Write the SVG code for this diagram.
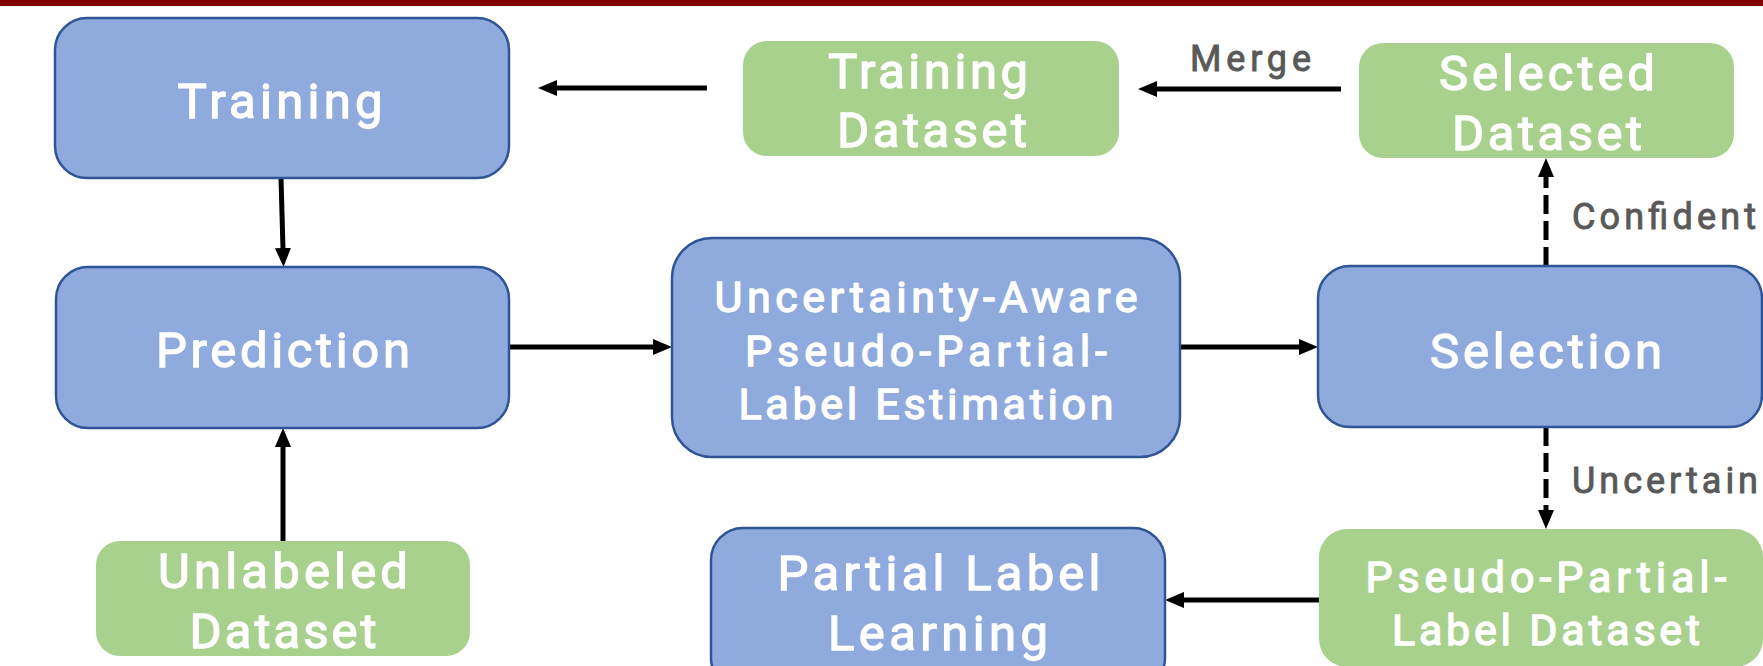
<svg xmlns="http://www.w3.org/2000/svg" width="1763" height="666" viewBox="0 0 1763 666">
<defs>
<style>
.blue{fill:#8FAADC;stroke:#2F5597;stroke-width:2.5}
.green{fill:#A9D18E;stroke:none}
.t{font-family:Roboto,"Liberation Sans",sans-serif;font-weight:400;fill:#FFFFFF;stroke:#FFFFFF;stroke-width:1.3;text-anchor:middle}
.t48{font-size:49px}
.t42{font-size:43px}
.lbl{font-family:Roboto,"Liberation Sans",sans-serif;font-weight:400;font-size:36px;fill:#595959;stroke:#595959;stroke-width:0.9}
.c{stroke:#000000;stroke-width:5;fill:none;marker-end:url(#ah)}
.d{stroke-dasharray:19 7}
</style>
<marker id="ah" markerUnits="userSpaceOnUse" markerWidth="20" markerHeight="18" refX="1" refY="9" orient="auto">
<path d="M0,1 L19,9 L0,17 Z" fill="#000000"/>
</marker>
</defs>
<rect x="0" y="0" width="1763" height="666" fill="#FFFFFF"/>
<rect x="0" y="0" width="1763" height="6" fill="#800000"/>

<g id="connectors">
<line class="c" x1="707" y1="88" x2="556" y2="88"/>
<line class="c" x1="1341" y1="89" x2="1156" y2="89"/>
<line class="c" x1="281" y1="178" x2="283" y2="249"/>
<line class="c" x1="283" y1="541" x2="283" y2="446"/>
<line class="c" x1="509" y1="347" x2="654" y2="347"/>
<line class="c" x1="1180" y1="347" x2="1300" y2="347"/>
<line class="c d" x1="1546" y1="266" x2="1546" y2="176"/>
<line class="c d" x1="1546" y1="427" x2="1546" y2="511"/>
<line class="c" x1="1319" y1="600" x2="1183" y2="600"/>
</g>

<g id="training">
<rect class="blue" x="55" y="18" width="454" height="160" rx="32"/>
<text class="t t48" x="280" y="118" textLength="205" lengthAdjust="spacing">Training</text>
</g>
<g id="prediction">
<rect class="blue" x="56" y="267" width="453" height="161" rx="32"/>
<text class="t t48" x="283" y="367" textLength="254" lengthAdjust="spacing">Prediction</text>
</g>
<g id="estimation">
<rect class="blue" x="672" y="238" width="508" height="219" rx="40"/>
<text class="t t42" x="926" y="312" textLength="423" lengthAdjust="spacing">Uncertainty-Aware</text>
<text class="t t42" x="926" y="366" textLength="362" lengthAdjust="spacing">Pseudo-Partial-</text>
<text class="t t42" x="926" y="419" textLength="375" lengthAdjust="spacing">Label Estimation</text>
</g>
<g id="selection">
<rect class="blue" x="1318" y="266" width="444" height="161" rx="32"/>
<text class="t t48" x="1546" y="368" textLength="232" lengthAdjust="spacing">Selection</text>
</g>
<g id="pll">
<rect class="blue" x="711" y="528" width="454" height="162" rx="32"/>
<text class="t t48" x="939" y="590" textLength="323" lengthAdjust="spacing">Partial Label</text>
<text class="t t48" x="938" y="650" textLength="220" lengthAdjust="spacing">Learning</text>
</g>
<g id="training-dataset">
<rect class="green" x="743" y="41" width="376" height="115" rx="24"/>
<text class="t t48" x="928" y="88" textLength="200" lengthAdjust="spacing">Training</text>
<text class="t t48" x="932" y="147" textLength="190" lengthAdjust="spacing">Dataset</text>
</g>
<g id="selected-dataset">
<rect class="green" x="1359" y="43" width="375" height="115" rx="24"/>
<text class="t t48" x="1547" y="90" textLength="216" lengthAdjust="spacing">Selected</text>
<text class="t t48" x="1547" y="150" textLength="190" lengthAdjust="spacing">Dataset</text>
</g>
<g id="unlabeled-dataset">
<rect class="green" x="96" y="541" width="374" height="115" rx="24"/>
<text class="t t48" x="283" y="588" textLength="250" lengthAdjust="spacing">Unlabeled</text>
<text class="t t48" x="283" y="648" textLength="187" lengthAdjust="spacing">Dataset</text>
</g>
<g id="ppl-dataset">
<rect class="green" x="1319" y="529" width="444" height="138" rx="28"/>
<text class="t t42" x="1546" y="592" textLength="361" lengthAdjust="spacing">Pseudo-Partial-</text>
<text class="t t42" x="1546" y="645" textLength="308" lengthAdjust="spacing">Label Dataset</text>
</g>
<g id="labels">
<text class="lbl" x="1190" y="71" textLength="121" lengthAdjust="spacing">Merge</text>
<text class="lbl" x="1572" y="229" textLength="184" lengthAdjust="spacing">Confident</text>
<text class="lbl" x="1572" y="493" textLength="186" lengthAdjust="spacing">Uncertain</text>
</g>
</svg>
